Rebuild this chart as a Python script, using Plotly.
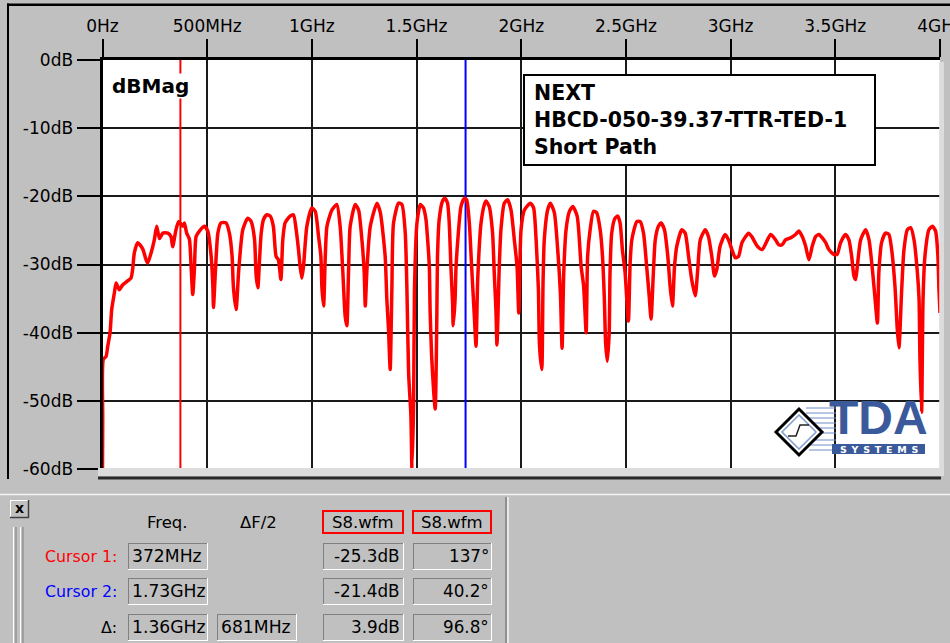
import plotly.graph_objects as go

# ---------------- data ----------------
freq_mhz = [0, 1, 4, 17, 25, 36, 44, 57, 65, 80, 96, 120, 136, 144, 152, 168, 192, 208, 216, 232,
            248, 259, 272, 288, 312, 327, 335, 351, 364, 383, 391, 402, 415, 423, 431, 439, 447, 463,
            487, 503, 519, 527, 530, 539, 551, 566, 590, 606, 619, 625, 638, 651, 670, 694, 710, 726,
            734, 742, 750, 758, 769, 785, 801, 816, 829, 840, 852, 861, 872, 896, 912, 925, 936, 944,
            952, 960, 976, 1000, 1016, 1032, 1043, 1048, 1056, 1064, 1072, 1096, 1119, 1135, 1148,
            1159, 1167, 1175, 1183, 1207, 1223, 1239, 1250, 1255, 1263, 1279, 1311, 1327, 1350, 1358,
            1366, 1374, 1382, 1390, 1414, 1430, 1446, 1454, 1462, 1473, 1478, 1486, 1490, 1502, 1518,
            1533, 1545, 1553, 1561, 1565, 1572, 1581, 1589, 1597, 1600, 1608, 1624, 1636, 1648, 1656,
            1664, 1672, 1675, 1684, 1688, 1696, 1712, 1728, 1739, 1752, 1763, 1776, 1784, 1792, 1808,
            1824, 1832, 1847, 1863, 1871, 1879, 1884, 1895, 1903, 1919, 1935, 1951, 1967, 1980, 1988,
            1999, 2015, 2044, 2059, 2071, 2082, 2087, 2098, 2104, 2110, 2126, 2139, 2158, 2174, 2187,
            2195, 2203, 2214, 2230, 2246, 2267, 2286, 2298, 2310, 2317, 2329, 2345, 2360, 2377, 2388,
            2397, 2403, 2411, 2420, 2424, 2432, 2448, 2461, 2472, 2483, 2496, 2504, 2512, 2520, 2528,
            2552, 2568, 2584, 2599, 2611, 2620, 2631, 2640, 2655, 2668, 2684, 2700, 2711, 2722, 2732,
            2743, 2767, 2783, 2799, 2814, 2831, 2843, 2855, 2879, 2894, 2910, 2923, 2934, 2950, 2974,
            2990, 3006, 3022, 3038, 3054, 3086, 3101, 3127, 3151, 3191, 3215, 3230, 3246, 3262, 3286,
            3310, 3326, 3342, 3358, 3374, 3390, 3406, 3422, 3438, 3454, 3469, 3493, 3509, 3525, 3549,
            3565, 3578, 3589, 3597, 3605, 3621, 3645, 3661, 3677, 3689, 3701, 3708, 3721, 3740, 3756,
            3769, 3785, 3796, 3804, 3817, 3828, 3844, 3860, 3876, 3892, 3900, 3904, 3912, 3919, 3928,
            3947, 3964, 3979, 3990, 3995, 4000]
mag_db = [-60, -52.7, -43.9, -43.5, -42, -40, -36.6, -34.1, -32.7, -33.7, -33, -32.4, -32, -30.7, -28.3,
          -26.8, -27.7, -29.3, -29.8, -28.3, -26.3, -24.4, -26.2, -25.4, -25.4, -25.9, -27.4, -24.9,
          -23.7, -24.4, -23.9, -25.4, -26.3, -30.2, -34.4, -30.7, -25.9, -25.1, -24.4, -25.1, -28.8,
          -33.2, -36.3, -31.2, -25.4, -23.9, -23.9, -25.4, -28.8, -33.2, -36.6, -30.7, -24.9, -23.2,
          -23.7, -26.3, -31.7, -33.4, -29.3, -25.4, -23.4, -22.7, -22.9, -24.4, -28.8, -29.3, -32.2,
          -26.4, -23.9, -22.9, -22.7, -24.9, -27.8, -30.3, -32.0, -30.3, -24.4, -21.7, -22.2, -25.9,
          -28.8, -33.4, -36.1, -28.8, -24.4, -22.0, -21.2, -24.4, -31.2, -37.6, -39.0, -31.2, -24.4,
          -21.2, -22.0, -26.4, -31.2, -36.1, -30.7, -24.4, -21.0, -22.4, -28.8, -35.1, -39.5, -45.4,
          -33.7, -23.9, -21.0, -21.2, -25.4, -33.7, -45.9, -52.2, -60, -50.3, -33.7, -23.9, -21.2,
          -21.7, -23.4, -26.4, -30.3, -37.1, -43.4, -48.3, -51.2, -37.1, -28.8, -23.4, -20.7, -20.3,
          -21.0, -23.9, -30.3, -35.6, -39.0, -35.1, -30.7, -26.8, -21.5, -20.3, -20.5, -23.9, -30.3,
          -37.6, -42.0, -32.2, -23.9, -21.2, -20.7, -21.5, -25.4, -31.2, -36.6, -41.8, -30.3, -24.9,
          -21.0, -20.5, -22.0, -26.4, -30.3, -37.1, -24.9, -22.0, -21.0, -21.7, -26.4, -33.7, -41.8,
          -45.4, -32.7, -26.4, -22.0, -21.0, -22.4, -27.8, -34.2, -42.3, -31.2, -24.9, -22.2, -21.5,
          -22.9, -30.3, -33.2, -40.0, -28.8, -24.9, -22.2, -22.4, -24.9, -28.8, -35.1, -41.5, -44.2,
          -40.0, -31.2, -25.4, -23.2, -22.9, -23.9, -27.8, -31.2, -35.1, -38.3, -29.8, -26.4, -23.7,
          -23.7, -25.4, -30.3, -34.6, -38.0, -31.2, -26.4, -24.4, -23.9, -24.9, -28.8, -33.2, -36.1,
          -30.3, -27.3, -24.9, -25.4, -28.8, -32.2, -34.6, -30.7, -26.4, -24.9, -25.9, -28.8, -31.7,
          -30.7, -27.3, -25.6, -26.4, -27.8, -29.0, -28.8, -26.8, -25.4, -25.9, -27.3, -27.8, -25.6,
          -26.4, -27.1, -27.1, -26.4, -26.1, -25.6, -25.1, -25.9, -27.3, -29.3, -27.3, -25.9, -25.6,
          -26.1, -26.8, -27.8, -28.5, -28.5, -26.8, -25.6, -26.4, -28.8, -31.7, -32.2, -30.3, -26.4,
          -24.9, -26.4, -30.7, -34.7, -38.6, -31.2, -26.8, -25.4, -25.6, -27.8, -33.2, -39.5, -42.2,
          -33.7, -27.8, -24.9, -24.6, -26.4, -31.2, -35.1, -43.4, -51.7, -35.1, -28.8, -24.9, -24.4,
          -25.1, -28.8, -33.7, -37.1]

x_tick_vals = [0, 500, 1000, 1500, 2000, 2500, 3000, 3500, 4000]
x_tick_text = ["0Hz", "500MHz", "1GHz", "1.5GHz", "2GHz", "2.5GHz", "3GHz", "3.5GHz", "4GHz"]
y_tick_vals = [0, -10, -20, -30, -40, -50, -60]
y_tick_text = ["0dB", "-10dB", "-20dB", "-30dB", "-40dB", "-50dB", "-60dB"]

cursor_freqs = [372, 1734]
cursor_names = ["Cursor 1:", "Cursor 2:", "\u0394:"]
cursor_freq_text = ["372MHz", "1.73GHz", "1.36GHz"]
half_df_text = ["", "", "681MHz"]
mag_text = ["-25.3dB", "-21.4dB", "3.9dB"]
phase_text = ["137\u00b0", "40.2\u00b0", "96.8\u00b0"]
title_lines = ["NEXT", "HBCD-050-39.37-TTR-TED-1", "Short Path"]

# ---------------- helpers ----------------
W, H = 950, 643
def PX(x):
    return x / W
def PY(y):
    return 1 - y / H

FONT = "DejaVu Sans"
RED = "#ff0000"
BLUE = "#0000ff"
GRAY = "#c0c0c0"
shapes = []
annos = []

def rect(x0, y0, x1, y1, fill, line=None, lw=0, layer="above"):
    d = dict(type="rect", xref="paper", yref="paper", x0=PX(x0), x1=PX(x1), y0=PY(y1), y1=PY(y0),
             fillcolor=fill, layer=layer, line=dict(width=lw, color=line or fill))
    shapes.append(d)

def hline(x0, x1, y, color, w=1):
    shapes.append(dict(type="line", xref="paper", yref="paper", x0=PX(x0), x1=PX(x1), y0=PY(y), y1=PY(y),
                       line=dict(color=color, width=w), layer="above"))

def vline(x, y0, y1, color, w=1):
    shapes.append(dict(type="line", xref="paper", yref="paper", x0=PX(x), x1=PX(x), y0=PY(y0), y1=PY(y1),
                       line=dict(color=color, width=w), layer="above"))

def text(x, y, s, size=16.5, color="black", xanchor="center", bold=False, family=FONT, bg=None,
         yanchor="middle"):
    d = dict(x=PX(x), y=PY(y), xref="paper", yref="paper", text=("<b>%s</b>" % s) if bold else s,
             showarrow=False, xanchor=xanchor, yanchor=yanchor,
             font=dict(family=family, size=size, color=color), borderpad=0)
    if bg:
        d["bgcolor"] = bg
    annos.append(d)

def sunken(x0, y0, x1, y1):
    hline(x0, x1, y0 + 0.5, "#808080")
    vline(x0 + 0.5, y0, y1, "#808080")
    hline(x0, x1 + 1, y1 + 0.5, "#ffffff")
    vline(x1 + 0.5, y0, y1 + 1, "#ffffff")

# ---------------- figure ----------------
fig = go.Figure()
for f, c in zip(cursor_freqs, [RED, BLUE]):
    fig.add_trace(go.Scatter(x=[f, f], y=[-60, 0], mode="lines", line=dict(color=c, width=2),
                             hoverinfo="skip", showlegend=False))
fig.add_trace(go.Scatter(x=freq_mhz, y=mag_db, mode="lines",
                         line=dict(color=RED, width=3.5, shape="spline", smoothing=0.6),
                         showlegend=False, hoverinfo="skip"))

# window frame
rect(7, 3.5, 950, 6, "black")
rect(7, 3.5, 9, 479, "black")
rect(98, 468, 944, 476, "#dcdcdc")
rect(939.2, 62, 944, 476, "#dcdcdc")
rect(98, 476.5, 941, 479.5, "#2a2a2a")
hline(0, 950, 494.5, "#f4f4f4", 1.5)
vline(506, 497, 643, "#808080", 1.5)
vline(508, 497, 643, "#f4f4f4", 1.5)

# NEXT box
rect(524, 75, 875, 165, "white", "black", 2)
for i, s in enumerate(title_lines):
    text(533, 93 + 27 * i, s, size=20.5, xanchor="left", bold=True)
text(111, 86, "dBMag", size=20, xanchor="left", bold=True, bg="white")

# TDA logo
LB = "#3b5a9b"
for yy in [408, 413, 418, 423, 428, 433]:
    hline(806, 836, yy, "#6f8cc6", 1)
for yy in [440, 445, 450]:
    hline(809, 836, yy, "#6f8cc6", 1)
shapes.append(dict(type="path", xref="paper", yref="paper",
                   path="M %f,%f L %f,%f L %f,%f L %f,%f Z" % (PX(776), PY(432), PX(799), PY(409),
                                                                 PX(822), PY(432), PX(799), PY(455)),
                   fillcolor="white", line=dict(color="black", width=3), layer="above"))
shapes.append(dict(type="path", xref="paper", yref="paper",
                   path="M %f,%f L %f,%f L %f,%f L %f,%f Z" % (PX(782), PY(432), PX(799), PY(415),
                                                                 PX(816), PY(432), PX(799), PY(449)),
                   line=dict(color="#7f9ccf", width=1.5), layer="above"))
shapes.append(dict(type="path", xref="paper", yref="paper",
                   path="M %f,%f L %f,%f L %f,%f L %f,%f" % (PX(788), PY(436), PX(796), PY(436),
                                                            PX(800), PY(425), PX(809), PY(425)),
                   line=dict(color="#222222", width=1.5), layer="above"))
rect(832, 444, 925, 454, LB)
text(878.5, 445, "TDA", size=48, color=LB, bold=True, family="Liberation Sans", yanchor="bottom")
text(878.5, 449.5, "S\u2002Y\u2002S\u2002T\u2002E\u2002M\u2002S", size=9.5, color="white", bold=True)

# cursor panel
rect(10, 500, 28, 517, GRAY)
hline(10, 28, 500.5, "#ffffff")
vline(10.5, 500, 517, "#ffffff")
hline(10, 29, 517.5, "#404040", 1.5)
vline(28.5, 500, 518, "#404040", 1.5)
text(19, 508, "x", size=14, bold=True)
for xx in [13.5, 20.5]:
    vline(xx, 527, 643, "#ffffff", 1)
    vline(xx + 2.5, 527, 643, "#808080", 1)

text(167, 522, "Freq.", size=16.5)
text(258, 522, "\u0394F/2", size=16.5)
for bx0, bx1 in [(323, 403), (413, 491)]:
    rect(bx0, 511, bx1, 533, GRAY, RED, 2)
    text((bx0 + bx1) / 2, 522, "S8.wfm", size=16.5)

row_y = [543, 578, 614]
name_colors = [RED, BLUE, "black"]
for i in range(3):
    y0 = row_y[i]
    yc = y0 + 13
    text(118, yc, cursor_names[i], color=name_colors[i], xanchor="right", size=15.8)
    sunken(128, y0, 207, y0 + 26)
    text(131, yc, cursor_freq_text[i], xanchor="left", size=17.2)
    if half_df_text[i]:
        sunken(217, y0, 296, y0 + 26)
        text(220, yc, half_df_text[i], xanchor="left", size=17.2)
    sunken(323, y0, 403, y0 + 26)
    text(401, yc, mag_text[i], xanchor="right", size=16.8)
    sunken(413, y0, 491, y0 + 26)
    text(490, yc, phase_text[i], xanchor="right", size=16.8)

axis_common = dict(ticks="outside", tickwidth=2, tickcolor="black", showline=True, linewidth=3,
                   linecolor="black", showgrid=True, gridcolor="#1a1a1a", gridwidth=2, zeroline=False,
                   tickfont=dict(family=FONT, size=17, color="black"), fixedrange=True, automargin=False,
                   ticklabeloverflow="allow")
fig.update_layout(
    width=W, height=H, autosize=False,
    margin=dict(l=0, r=0, t=0, b=0, pad=0, autoexpand=False),
    paper_bgcolor=GRAY, plot_bgcolor="white",
    xaxis=dict(domain=[102.5 / W, 940 / W], range=[0, 4000], side="top", tickmode="array",
               tickvals=x_tick_vals, ticktext=x_tick_text, ticklen=18, anchor="y", **axis_common),
    yaxis=dict(domain=[1 - 469 / H, 1 - 60 / H], range=[-60, 0], side="left", tickmode="array",
               tickvals=y_tick_vals, ticktext=y_tick_text, ticklen=23, anchor="x", **axis_common),
    shapes=shapes, annotations=annos, showlegend=False,
)
fig.write_html("out.html", config={"displayModeBar": False},
               post_script="document.body.style.margin='0px';document.body.style.overflow='hidden';")
